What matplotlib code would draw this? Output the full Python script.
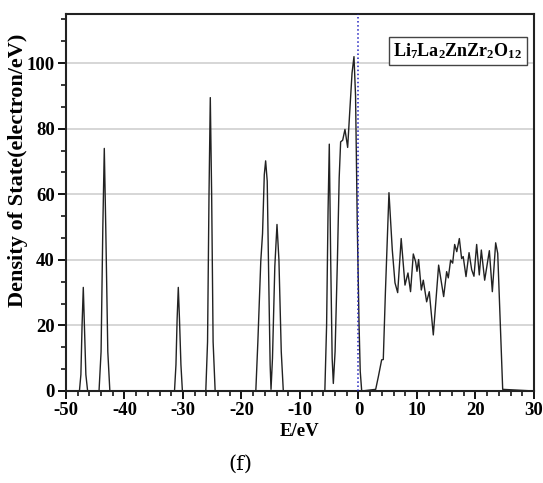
import matplotlib
matplotlib.use("Agg")
import matplotlib.pyplot as plt
from matplotlib.ticker import MultipleLocator

# ---- data ----
energy = [
    -50.0, -47.7, -47.45, -47.25, -47.04, -46.85, -46.6, -46.3,
    -44.35, -44.0, -43.7, -43.45, -43.2, -42.85, -42.5,
    -31.45, -31.2, -31.0, -30.8, -30.6, -30.35, -30.1,
    -26.1, -25.8, -25.55, -25.33, -25.1, -24.85, -24.5,
    -17.55, -17.2, -16.7, -16.4, -16.1, -15.87, -15.6, -15.35, -15.1, -14.95,
    -14.7, -14.3, -13.93, -13.6, -13.2, -12.85,
    -5.75, -5.45, -5.2, -4.99, -4.75, -4.5, -4.3, -4.0, -3.6, -3.3, -3.05,
    -2.7, -2.31, -1.85, -1.5, -1.1, -0.77, -0.5, -0.2, 0.1, 0.3, 0.55,
    2.94, 3.4, 3.96, 4.24, 4.6, 5.21, 5.78, 6.24, 6.7, 7.3, 7.95, 8.46, 8.9,
    9.37, 9.77, 10.0, 10.28, 10.74, 11.08, 11.65, 12.1, 12.79, 13.7, 14.56,
    15.07, 15.35, 15.75, 16.1, 16.44, 16.8, 17.24, 17.63, 17.9, 18.38, 18.9,
    19.35, 19.74, 20.2, 20.65, 21.0, 21.57, 22.37, 22.88, 23.45, 23.8, 24.65,
    30.0,
]
dos = [
    0.0, 0.0, 5.0, 20.0, 31.6, 20.0, 5.0, 0.0,
    0.0, 12.0, 50.0, 74.0, 50.0, 12.0, 0.0,
    0.0, 8.0, 22.0, 31.6, 22.0, 8.0, 0.0,
    0.0, 15.0, 60.0, 89.5, 60.0, 15.0, 0.0,
    0.0, 15.0, 39.6, 48.0, 66.0, 70.2, 64.0, 35.0, 8.0, 0.5,
    10.0, 38.0, 50.8, 40.0, 12.0, 0.0,
    0.0, 20.0, 55.0, 75.3, 40.0, 10.0, 2.3, 12.0, 40.0, 65.0, 76.0,
    76.5, 79.8, 74.3, 85.0, 97.0, 102.0, 90.0, 50.0, 20.0, 6.0, 0.0,
    0.5, 4.4, 9.5, 9.6, 30.0, 60.5, 43.0, 33.0, 30.0, 46.5, 32.3, 36.0, 30.3,
    41.8, 39.4, 36.5, 40.1, 30.8, 33.8, 27.2, 30.3, 17.1, 38.4, 28.8,
    36.4, 34.5, 39.9, 39.0, 44.7, 42.5, 46.5, 40.4, 41.0, 34.9, 42.2,
    37.0, 35.0, 44.7, 35.4, 43.0, 33.8, 42.8, 30.3, 45.2, 42.0, 0.5,
    0.0,
]
x_ticks = [-50, -40, -30, -20, -10, 0, 10, 20, 30]
y_ticks = [0, 20, 40, 60, 80, 100]
fermi_level = 0.0
compound = r"$\mathbf{Li_7La_2ZnZr_2O_{12}}$"

# ---- style ----
plt.rcParams["font.family"] = ["Liberation Serif", "DejaVu Serif"]
plt.rcParams["font.weight"] = "bold"
plt.rcParams["axes.unicode_minus"] = False
plt.rcParams["mathtext.fontset"] = "custom"
plt.rcParams["mathtext.rm"] = "Liberation Serif:bold"
plt.rcParams["mathtext.bf"] = "Liberation Serif:bold"
plt.rcParams["mathtext.it"] = "Liberation Serif:bold:italic"

fig = plt.figure(figsize=(5.43, 4.83), dpi=100)
ax = fig.add_axes([0.1215, 0.1905, 0.8619, 0.7805])

for yv in y_ticks[1:]:
    ax.axhline(yv, color="#cfcfcf", lw=1.2, zorder=0)

ax.plot(energy, dos, color="#222222", lw=1.0, zorder=2)
ax.axvline(fermi_level, color="#2020c0", lw=1.1, ls=":", zorder=3)

ax.set_xlim(-50, 30)
ax.set_ylim(0, 115)
ax.set_xticks(x_ticks)
ax.set_yticks(y_ticks)
ax.xaxis.set_minor_locator(MultipleLocator(2))
ax.yaxis.set_minor_locator(MultipleLocator(20 / 3))
ax.tick_params(axis="both", which="major", direction="out", length=6, width=1.3,
               labelsize=13.5, pad=2)
ax.tick_params(axis="both", which="minor", direction="out", length=3.5, width=1.1)
ax.tick_params(top=False, right=False, which="both")
for lab in ax.get_xticklabels() + ax.get_yticklabels():
    lab.set_fontweight("bold")

for sp in ax.spines.values():
    sp.set_linewidth(1.5)
    sp.set_color("#222222")

ax.set_xlabel("E/eV", fontsize=13.5, fontweight="bold", labelpad=3)
ax.set_ylabel("Density of State(electron/eV)", fontsize=16, fontweight="bold")
ax.yaxis.set_label_coords(-0.081, 0.586)

ax.text(0.975, 0.902, compound, transform=ax.transAxes, fontsize=13,
        ha="right", va="center",
        bbox=dict(boxstyle="square,pad=0.25", fc="white", ec="#444444", lw=1.0))

fig.text(0.442, 0.038, "(f)", fontsize=15, fontweight="normal",
         family=["DejaVu Serif"], ha="center", va="center")

fig.savefig("out.png", dpi=100)
